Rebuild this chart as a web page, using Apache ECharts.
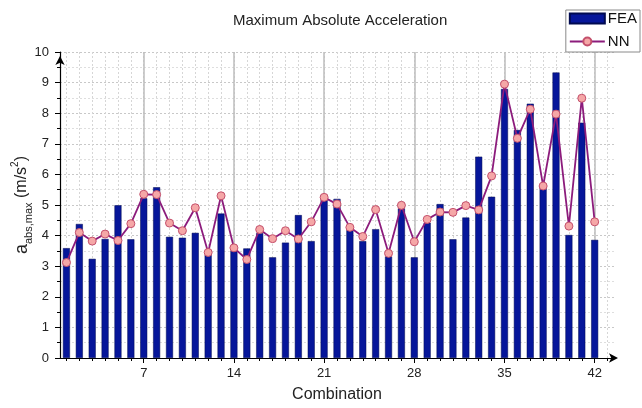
<!DOCTYPE html>
<html>
<head>
<meta charset="utf-8">
<script src="https://cdn.jsdelivr.net/npm/echarts@6/dist/echarts.min.js"></script>
<style>html,body{margin:0;padding:0;background:#fff}#c{width:642px;height:408px}</style>
</head>
<body>
<div id="c"></div>
<script>
var categories = ['1','2','3','4','5','6','7','8','9','10','11','12','13','14','15','16','17','18','19','20','21','22','23','24','25','26','27','28','29','30','31','32','33','34','35','36','37','38','39','40','41','42','43'];
var labeledTicks = ['7','14','21','28','35','42'];
var feaValues = [3.59,4.38,3.24,3.89,4.99,3.88,5.22,5.58,3.96,3.93,4.09,3.37,4.72,3.51,3.58,4.08,3.29,3.77,4.67,3.82,5.33,5.20,4.18,3.82,4.21,3.32,4.89,3.29,4.42,5.03,3.88,4.59,6.58,5.27,8.79,7.45,8.31,5.62,9.33,4.02,7.69,3.86];
var nnValues = [3.12,4.10,3.82,4.05,3.84,4.39,5.35,5.34,4.41,4.16,4.91,3.45,5.30,3.60,3.22,4.20,3.90,4.16,3.89,4.45,5.25,5.03,4.27,3.97,4.85,3.42,4.99,3.80,4.53,4.77,4.76,4.98,4.84,5.95,8.95,7.18,8.13,5.62,7.97,4.31,8.49,4.45];

var FONT = 'Liberation Sans, Arial, sans-serif';
var chart = echarts.init(document.getElementById('c'), null, {renderer: 'canvas'});
function isMajor(idx, val) { return labeledTicks.indexOf(String(val)) >= 0; }
chart.setOption({
  animation: false,
  backgroundColor: '#ffffff',
  title: {
    text: 'Maximum Absolute Acceleration',
    left: 228, top: 8,
    textStyle: {fontFamily: FONT, fontSize: 15, fontWeight: 'normal', color: '#222'}
  },
  legend: {
    orient: 'vertical',
    right: 2, top: 10,
    padding: [1, 3, 3, 3],
    itemGap: 8,
    itemWidth: 35, itemHeight: 10,
    borderColor: '#8a8a8a', borderWidth: 1,
    textStyle: {fontFamily: FONT, fontSize: 15, color: '#111', padding: [0,0,0,-2]},
    data: [{name: 'FEA', icon: 'rect'}, {name: 'NN'}]
  },
  grid: {left: 60, right: 28, top: 52, bottom: 50, containLabel: false, outerBoundsMode: 'none'},
  xAxis: [{
    type: 'category',
    data: categories,
    boundaryGap: true,
    name: 'Combination',
    nameLocation: 'middle',
    nameGap: 29,
    nameMoveOverlap: false,
    nameTextStyle: {fontFamily: FONT, fontSize: 16, color: '#222'},
    axisLine: {show: true, lineStyle: {color: '#000', width: 1.2}, symbol: ['none', 'arrow'], symbolSize: [7, 9], symbolOffset: [0, 4]},
    axisTick: {show: true, alignWithLabel: true, interval: 0, length: 3, lineStyle: {color: '#000'}},
    axisLabel: {show: false},
    splitLine: {show: true, alignWithLabel: true, interval: 0, lineStyle: {color: '#d6d6d6', type: [2, 2], width: 1}}
  }, {
    type: 'category',
    data: categories,
    boundaryGap: true,
    position: 'bottom',
    axisLine: {show: false},
    axisTick: {show: true, alignWithLabel: true, interval: isMajor, length: 5, lineStyle: {color: '#000'}},
    axisLabel: {show: true, interval: isMajor, margin: 9, fontFamily: FONT, fontSize: 13, color: '#222'},
    splitLine: {show: true, alignWithLabel: true, interval: isMajor, lineStyle: {color: '#bdbdbd', type: 'solid', width: 1.5}}
  }],
  yAxis: {
    type: 'value',
    min: 0, max: 10, interval: 1,
    name: '{a|a}{sub|abs,max}{b| (m/s}{sup|2}{b|)}',
    nameLocation: 'middle',
    nameRotate: 90,
    nameGap: 26,
    nameMoveOverlap: false,
    nameTextStyle: {
      fontFamily: FONT, color: '#222',
      rich: {
        a: {fontFamily: FONT, fontSize: 18, lineHeight: 24, color: '#222'},
        sub: {fontFamily: FONT, fontSize: 11, lineHeight: 13, verticalAlign: 'bottom', color: '#222'},
        b: {fontFamily: FONT, fontSize: 16, lineHeight: 24, color: '#222'},
        sup: {fontFamily: FONT, fontSize: 10, lineHeight: 13, verticalAlign: 'top', color: '#222'}
      }
    },
    axisLine: {show: true, lineStyle: {color: '#000', width: 1.2}, symbol: ['none', 'arrow'], symbolSize: [7, 9], symbolOffset: [0, -4]},
    axisTick: {show: true, length: 5, lineStyle: {color: '#000'}},
    minorTick: {show: true, splitNumber: 2, length: 3, lineStyle: {color: '#000'}},
    axisLabel: {margin: 11, fontFamily: FONT, fontSize: 13, color: '#222'},
    splitLine: {show: true, lineStyle: {color: '#c8c8c8', type: [2, 2], width: 1}},
    minorSplitLine: {show: true, lineStyle: {color: '#dedede', type: [2, 2], width: 1}}
  },
  series: [{
    name: 'FEA',
    type: 'bar',
    xAxisIndex: 0,
    data: feaValues,
    barWidth: 7,
    itemStyle: {color: '#06169a', borderColor: '#000a50', borderWidth: 0.5},
    z: 2
  }, {
    name: 'NN',
    type: 'line',
    xAxisIndex: 0,
    data: nnValues,
    symbol: 'circle',
    symbolSize: 8,
    lineStyle: {color: '#8c1c7c', width: 1.8},
    itemStyle: {color: '#f5a7a7', borderColor: '#c4506c', borderWidth: 1},
    z: 3
  }]
});
</script>
</body>
</html>
